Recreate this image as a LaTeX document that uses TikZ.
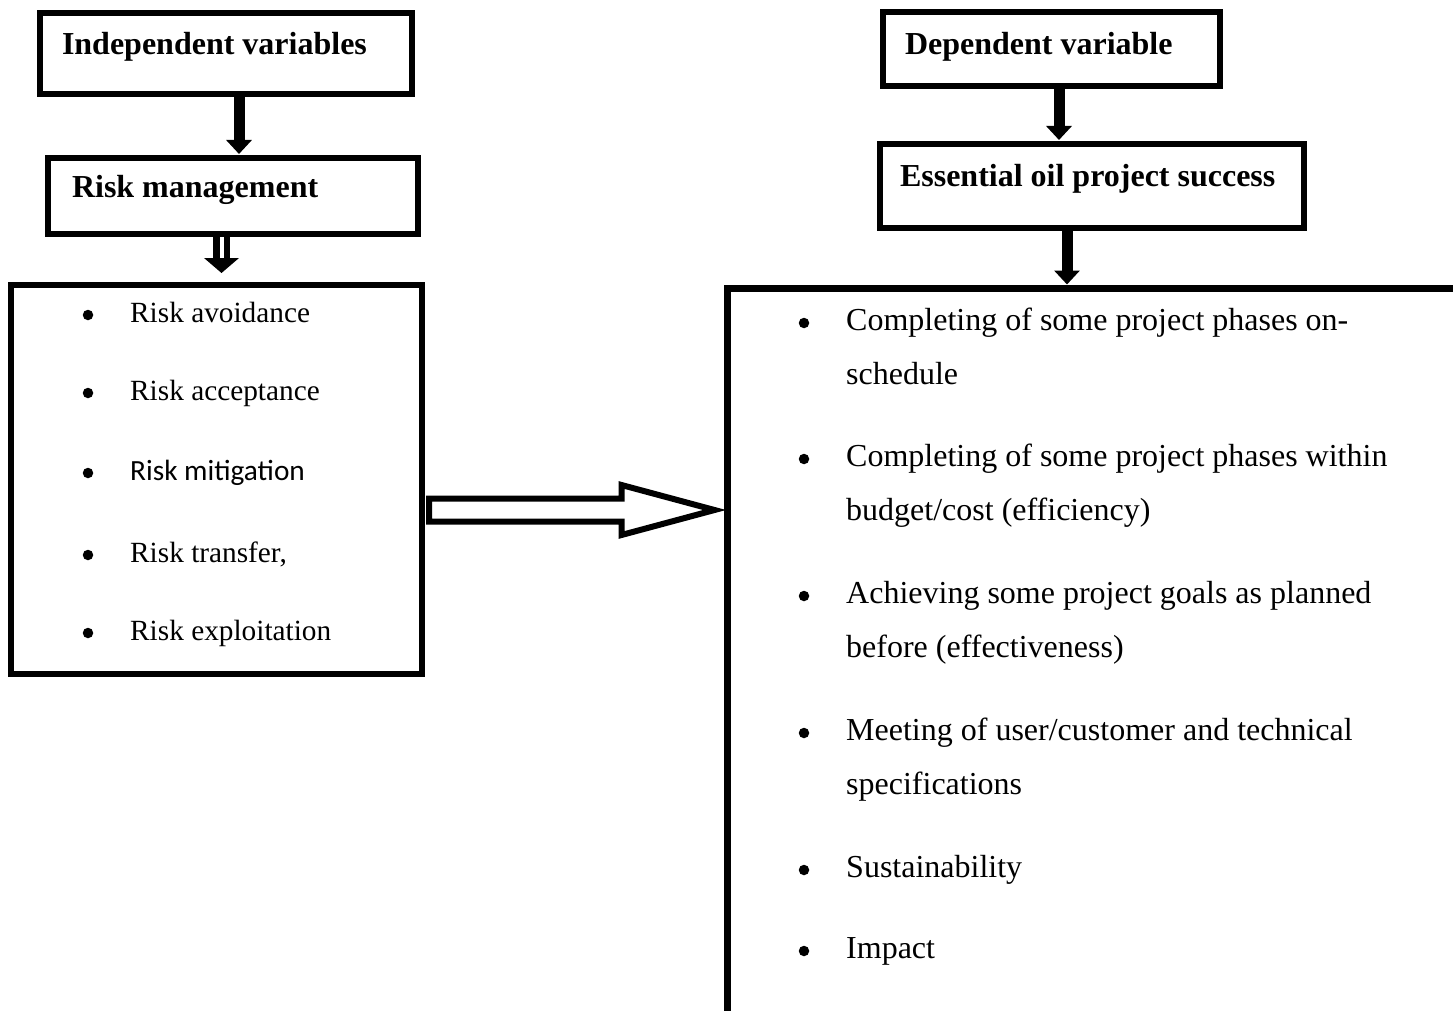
\documentclass[tikz,border=0pt]{standalone}
\usepackage{fontspec}
\setmainfont{Liberation Serif}
\newfontfamily\calibri{Carlito}
\usetikzlibrary{arrows.meta,calc}

\begin{document}
\begin{tikzpicture}[x=1pt,y=-1pt,
        hbox/.style={draw,line width=6pt,fill=white,anchor=north west,outer sep=0pt,
            inner ysep=0pt,align=flush left,font=\fontsize{32}{38}\selectfont\bfseries},
        lbox/.style={draw,line width=6pt,fill=white,anchor=north west,outer sep=0pt,
            inner sep=0pt},
        litem/.style={anchor=base west,inner sep=0pt,font=\fontsize{29.3}{35}\selectfont},
        ritem/.style={anchor=base west,inner sep=0pt,text width=600pt,align=flush left,
            font=\fontsize{32}{54.5}\selectfont},
        dot/.style={circle,fill=black,minimum size=10.5pt,inner sep=0pt},
        down/.style={line width=11pt,-{Triangle[width=25pt,length=14pt]},shorten >=4pt}]
    \clip (0,0) rectangle (1453,1011);
    \fill[white] (0,0) rectangle (1453,1011);

    % left side
    \node[hbox,inner xsep=22pt,text width=328pt,text height=42pt,text depth=39pt]
        (indep) at (40,13) {Independent variables};
    \node[hbox,inner xsep=24pt,text width=322pt,text height=40pt,text depth=36pt]
        (riskmgmt) at (48,158) {Risk management};
    \node[lbox,minimum width=411pt,minimum height=389pt] (risklist) at (11,285) {};

    \node[dot] at (88,315) {}; \node[litem] (avoid) at (130,322) {Risk avoidance};
    \node[dot] at (88,393) {}; \node[litem] (accept) at (130,400) {Risk acceptance};
    \node[dot] at (88,473) {}; \node[litem] (mitig) at (130,480) {\calibri Risk mitigation};
    \node[dot] at (88,555) {}; \node[litem] (transf) at (130,562) {Risk transfer,};
    \node[dot] at (88,633) {}; \node[litem] (exploit) at (130,640) {Risk exploitation};

    \draw[down] ($(indep.south)+(13,0)$) -- ($(indep.south |- riskmgmt.north)+(13,0)$);
    \coordinate (h0) at ($(riskmgmt.south)+(-11.5,3)$);
    \coordinate (h1) at (h0 |- risklist.north);
    \draw[line width=6.5pt,double=white,double distance=4pt] (h0) -- ($(h1)+(0,-26)$);
    \fill ($(h1)+(-17.5,-27)$) -- ($(h1)+(17.5,-27)$) -- ($(h1)+(0,-12)$) -- cycle;

    % right side
    \node[hbox,inner xsep=22pt,text width=293pt,text height=43pt,text depth=31pt]
        (dep) at (883,12) {Dependent variable};
    \node[hbox,inner xsep=20pt,text width=384pt,text height=42pt,text depth=42pt]
        (success) at (880,144) {Essential oil project success};
    \node[lbox,line width=7pt,minimum width=800pt,minimum height=800pt] (bigbox) at (727.5,288.5) {};

    \node[dot] at (804,323) {}; \node[ritem] (sched) at (846,330)
        {Completing of some project phases on-\\schedule};
    \node[dot] at (804,459) {}; \node[ritem] (budget) at (846,466)
        {Completing of some project phases within\\budget/cost (efficiency)};
    \node[dot] at (804,596) {}; \node[ritem] (goals) at (846,603)
        {Achieving some project goals as planned\\before (effectiveness)};
    \node[dot] at (804,733) {}; \node[ritem] (specs) at (846,740)
        {Meeting of user/customer and technical\\specifications};
    \node[dot] at (804,870) {}; \node[ritem] (sustain) at (846,877) {Sustainability};
    \node[dot] at (804,951) {}; \node[ritem] (impact) at (846,958) {Impact};

    \draw[down] ($(dep.south)+(7.5,0)$) -- ($(dep.south |- success.north)+(7.5,0)$);
    \draw[down] ($(success.south)+(-25,0)$) -- ($(success.south |- bigbox.north)+(-25,0)$);

    % arrow between the two sides
    \coordinate (a0) at ($(risklist.east)+(7,30.5)$);
    \coordinate (a1) at (bigbox.west |- a0);
    \draw[line width=6pt,fill=white] ($(a0)+(0,-11.5)$) -- ($(a1)+(-106,-11.5)$)
        -- ($(a1)+(-106,-25)$) -- ($(a1)+(-13,0)$) -- ($(a1)+(-106,25)$)
        -- ($(a1)+(-106,11.5)$) -- ($(a0)+(0,11.5)$) -- cycle;
\end{tikzpicture}
\end{document}
